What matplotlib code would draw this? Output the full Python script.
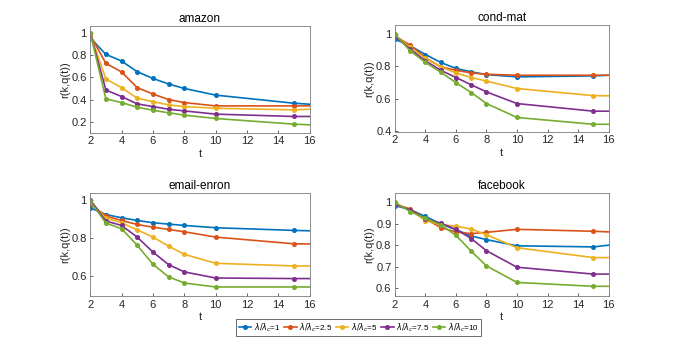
import numpy as np
import matplotlib.pyplot as plt

plt.rcParams['font.family'] = ['Liberation Sans', 'DejaVu Sans']

# time steps (last point at 16 is drawn without marker)
t = [2, 3, 4, 5, 6, 7, 8, 10, 15, 16]

# ratios lambda/lambda_c
ratios = ["1", "2.5", "5", "7.5", "10"]
colors = ["#0072BD", "#D95319", "#EDB120", "#7E2F8E", "#77AC30"]

# amazon
amazon_1 = [0.955, 0.806, 0.746, 0.65, 0.59, 0.54, 0.50, 0.44, 0.367, 0.358]
amazon_25 = [0.98, 0.725, 0.648, 0.507, 0.45, 0.40, 0.373, 0.343, 0.343, 0.343]
amazon_5 = [0.99, 0.585, 0.507, 0.412, 0.382, 0.352, 0.337, 0.322, 0.307, 0.313]
amazon_75 = [1.0, 0.486, 0.427, 0.361, 0.337, 0.313, 0.298, 0.269, 0.248, 0.248]
amazon_10 = [1.0, 0.406, 0.373, 0.331, 0.304, 0.281, 0.26, 0.23, 0.179, 0.173]

# cond-mat
condmat_1 = [0.969, 0.928, 0.874, 0.825, 0.788, 0.767, 0.75, 0.736, 0.742, 0.746]
condmat_25 = [0.988, 0.932, 0.854, 0.798, 0.777, 0.76, 0.752, 0.746, 0.746, 0.746]
condmat_5 = [0.99, 0.918, 0.85, 0.798, 0.76, 0.732, 0.71, 0.664, 0.62, 0.619]
condmat_75 = [0.99, 0.907, 0.835, 0.777, 0.732, 0.687, 0.643, 0.571, 0.524, 0.524]
condmat_10 = [1.0, 0.897, 0.825, 0.765, 0.70, 0.639, 0.571, 0.485, 0.443, 0.443]

# email-enron
enron_1 = [0.958, 0.923, 0.906, 0.892, 0.88, 0.873, 0.866, 0.854, 0.84, 0.838]
enron_25 = [0.979, 0.915, 0.892, 0.871, 0.857, 0.845, 0.833, 0.805, 0.77, 0.769]
enron_5 = [0.99, 0.904, 0.88, 0.843, 0.805, 0.758, 0.715, 0.668, 0.654, 0.654]
enron_75 = [1.0, 0.889, 0.866, 0.805, 0.727, 0.661, 0.623, 0.591, 0.588, 0.588]
enron_10 = [0.993, 0.878, 0.849, 0.762, 0.663, 0.597, 0.565, 0.544, 0.544, 0.544]

# facebook
fb_1 = [0.985, 0.966, 0.934, 0.90, 0.872, 0.843, 0.826, 0.797, 0.792, 0.80]
fb_25 = [0.992, 0.969, 0.923, 0.882, 0.862, 0.854, 0.86, 0.874, 0.865, 0.862]
fb_5 = [0.99, 0.965, 0.915, 0.895, 0.889, 0.875, 0.849, 0.788, 0.742, 0.742]
fb_75 = [0.99, 0.965, 0.923, 0.903, 0.874, 0.831, 0.774, 0.697, 0.665, 0.665]
fb_10 = [1.0, 0.957, 0.926, 0.895, 0.846, 0.772, 0.703, 0.626, 0.608, 0.608]

panels = [
    ("amazon", [amazon_1, amazon_25, amazon_5, amazon_75, amazon_10],
     (0.1, 1.06), [0.2, 0.4, 0.6, 0.8, 1.0], ["0.2", "0.4", "0.6", "0.8", "1"],
     [0.130, 0.618, 0.316, 0.307]),
    ("cond-mat", [condmat_1, condmat_25, condmat_5, condmat_75, condmat_10],
     (0.396, 1.056), [0.4, 0.6, 0.8, 1.0], ["0.4", "0.6", "0.8", "1"],
     [0.569, 0.621, 0.308, 0.307]),
    ("email-enron", [enron_1, enron_25, enron_5, enron_75, enron_10],
     (0.496, 1.035), [0.6, 0.8, 1.0], ["0.6", "0.8", "1"],
     [0.130, 0.149, 0.316, 0.296]),
    ("facebook", [fb_1, fb_25, fb_5, fb_75, fb_10],
     (0.562, 1.043), [0.6, 0.7, 0.8, 0.9, 1.0], ["0.6", "0.7", "0.8", "0.9", "1"],
     [0.569, 0.149, 0.308, 0.296]),
]

txt = "#262626"
fig = plt.figure(figsize=(6.94, 3.48), dpi=100)

handles = []
for name, series, ylim, yt, ytl, pos in panels:
    ax = fig.add_axes(pos)
    hs = []
    for vals, c, r in zip(series, colors, ratios):
        h, = ax.plot(t, vals, color=c, lw=1.2, marker="o", ms=2.6,
                     markevery=list(range(9)), label=r"$\lambda/\lambda_c$=" + r)
        hs.append(h)
    handles = hs
    ax.set_xlim(2, 16)
    ax.set_xticks([2, 4, 6, 8, 10, 12, 14, 16])
    ax.set_ylim(*ylim)
    ax.set_yticks(yt)
    ax.set_yticklabels(ytl)
    ax.set_title(name, fontsize=8.5, color="black", pad=3)
    ax.set_xlabel("t", fontsize=8, color=txt, labelpad=2)
    ax.set_ylabel("r(k,q(t))", fontsize=8, color=txt, labelpad=1)
    ax.tick_params(direction="in", length=2.5, width=0.5, labelsize=8,
                   colors=txt, top=False, right=False, pad=2.5)
    for s in ax.spines.values():
        s.set_color("#7a7a7a")
        s.set_linewidth(0.6)

leg = fig.legend(handles=handles, loc="center", bbox_to_anchor=(0.517, 0.059),
                 ncol=5, fontsize=5.8, frameon=True, fancybox=False,
                 handlelength=1.6, handletextpad=0.3, columnspacing=0.4,
                 borderpad=0.3, borderaxespad=0)
leg.get_frame().set_edgecolor("#262626")
leg.get_frame().set_linewidth(0.6)

fig.savefig("out.png", dpi=100)
